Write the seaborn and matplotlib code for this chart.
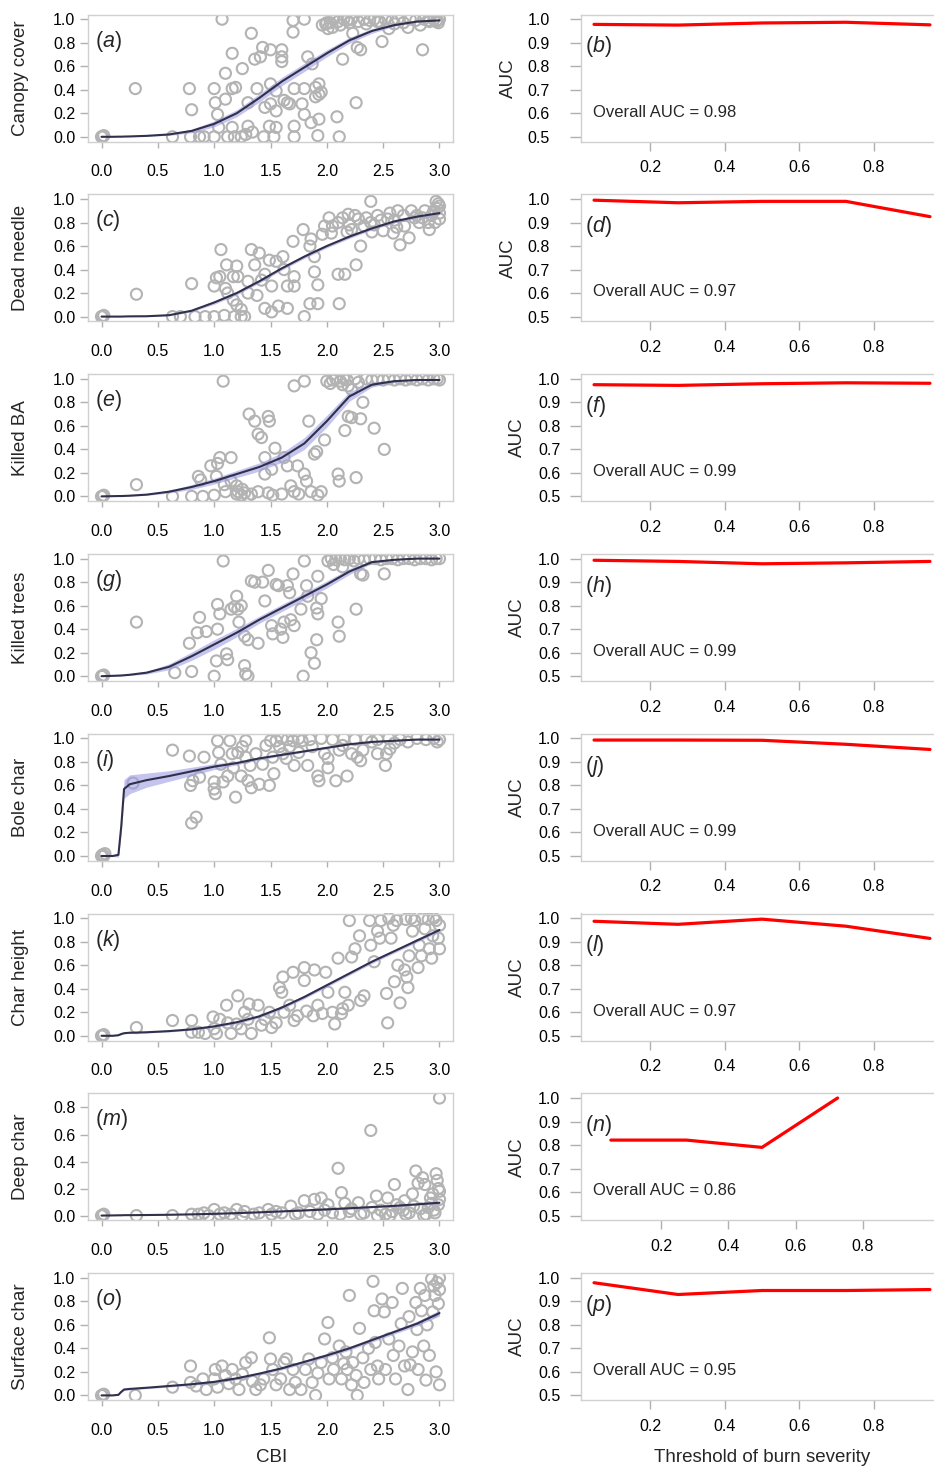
import numpy as np
import matplotlib
matplotlib.use("Agg")
import matplotlib.pyplot as plt
import seaborn as sns

# ---- data ----
cbi_grid = [0.0, 0.1, 0.15, 0.175, 0.2, 0.25, 0.4, 0.6, 0.8, 1.0,
            1.2, 1.4, 1.6, 1.8, 2.0, 2.2, 2.4, 2.6, 2.8, 3.0]

canopy_pts = [(0.00, 0.00), (0.01, 0.00), (0.02, 0.01), (0.30, 0.41), (0.63, 0.00), (0.78, 0.41), (0.79, 0.00),
              (0.80, 0.23), (0.87, 0.00), (0.91, 0.00), (1.00, 0.00), (1.00, 0.41), (1.01, 0.29), (1.03, 0.19),
              (1.04, 0.08), (1.07, 1.00), (1.10, 0.54), (1.10, 0.32), (1.12, 0.00), (1.16, 0.71), (1.16, 0.41),
              (1.19, 0.42), (1.16, 0.08), (1.18, 0.00), (1.25, 0.58), (1.24, 0.00), (1.28, 0.02), (1.30, 0.09),
              (1.33, 0.88), (1.36, 0.66), (1.30, 0.29), (1.34, 0.04), (1.41, 0.68), (1.43, 0.76), (1.38, 0.41),
              (1.45, 0.25), (1.44, 0.00), (1.50, 0.74), (1.50, 0.45), (1.50, 0.28), (1.49, 0.09), (1.55, 0.08),
              (1.53, 0.00), (1.60, 0.74), (1.60, 0.68), (1.60, 0.64), (1.55, 0.39), (1.55, 0.22), (1.62, 0.31),
              (1.65, 0.29), (1.67, 0.28), (1.70, 0.89), (1.70, 0.99), (1.71, 0.41), (1.71, 0.09), (1.71, 0.00),
              (1.80, 1.00), (1.80, 0.41), (1.78, 0.28), (1.83, 0.68), (1.80, 0.19), (1.86, 0.12), (1.87, 0.62),
              (1.90, 0.42), (1.90, 0.34), (1.93, 0.45), (1.93, 0.36), (1.95, 0.38), (1.93, 0.15), (1.92, 0.01),
              (1.96, 0.95), (1.99, 0.96), (2.01, 0.92), (2.03, 0.97), (2.05, 0.93), (2.09, 0.17), (2.11, 0.00),
              (2.14, 0.66), (2.26, 0.29), (2.27, 0.76), (2.30, 0.74), (2.23, 0.88), (2.49, 0.81), (2.55, 0.92),
              (2.85, 0.74), (2.72, 0.93), (2.83, 0.95), (2.00, 0.97), (2.06, 1.00), (2.10, 0.98), (2.15, 1.00),
              (2.18, 0.99), (2.22, 1.00), (2.28, 0.98), (2.33, 1.00), (2.38, 0.99), (2.42, 1.00), (2.47, 0.98),
              (2.52, 1.00), (2.58, 0.99), (2.63, 1.00), (2.68, 0.97), (2.74, 1.00), (2.79, 0.99), (2.86, 1.00),
              (2.91, 0.98), (2.95, 1.00), (2.98, 0.99), (3.00, 1.00), (2.99, 0.97), (2.97, 0.98), (2.12, 0.95),
              (2.20, 0.97), (2.35, 0.96), (2.45, 0.98), (2.60, 0.96), (2.90, 0.99)]
canopy_fit = [0.0, 0.0, 0.001, 0.001, 0.002, 0.003, 0.008, 0.02, 0.05, 0.11,
              0.20, 0.33, 0.47, 0.59, 0.71, 0.82, 0.90, 0.95, 0.98, 0.99]
canopy_se = [0, 0, 0, 0, 0, 0.001, 0.003, 0.008, 0.015, 0.025,
             0.03, 0.035, 0.035, 0.035, 0.03, 0.025, 0.02, 0.01, 0.005, 0.003]

needle_pts = [(0.00, 0.00), (0.01, 0.00), (0.02, 0.01), (0.31, 0.19), (0.63, 0.00), (0.70, 0.00), (0.83, 0.00),
              (0.92, 0.00), (1.00, 0.00), (1.09, 0.01), (1.18, 0.00), (1.24, 0.00), (0.80, 0.28), (1.00, 0.26),
              (1.02, 0.33), (1.05, 0.34), (1.06, 0.57), (1.11, 0.44), (1.20, 0.43), (1.17, 0.34), (1.21, 0.34),
              (1.12, 0.20), (1.17, 0.14), (1.20, 0.10), (1.27, 0.00), (1.24, 0.06), (1.30, 0.20), (1.33, 0.57),
              (1.36, 0.44), (1.40, 0.54), (1.42, 0.31), (1.45, 0.36), (1.49, 0.48), (1.51, 0.26), (1.45, 0.07),
              (1.51, 0.04), (1.57, 0.09), (1.61, 0.51), (1.62, 0.40), (1.65, 0.26), (1.70, 0.64), (1.71, 0.34),
              (1.71, 0.26), (1.65, 0.07), (1.79, 0.74), (1.80, 0.00), (1.85, 0.60), (1.86, 0.66), (1.89, 0.51),
              (1.89, 0.38), (1.92, 0.27), (1.85, 0.11), (1.92, 0.11), (1.96, 0.70), (1.98, 0.77), (2.02, 0.84),
              (2.04, 0.71), (2.10, 0.36), (2.11, 0.11), (2.16, 0.36), (2.19, 0.87), (2.22, 0.74), (2.26, 0.44),
              (2.28, 0.83), (2.30, 0.60), (2.33, 0.77), (2.39, 0.98), (2.39, 0.80), (2.45, 0.86), (2.50, 0.73),
              (2.54, 0.83), (2.59, 0.71), (2.65, 0.61), (2.63, 0.90), (2.69, 0.77), (2.73, 0.67), (2.78, 0.84),
              (2.82, 0.80), (2.87, 0.90), (2.93, 0.86), (2.97, 0.98), (2.98, 0.92), (3.00, 0.88), (2.96, 0.80),
              (3.00, 0.94), (2.10, 0.80), (2.14, 0.84), (2.20, 0.78), (2.25, 0.86), (2.35, 0.84), (2.42, 0.78),
              (2.48, 0.82), (2.56, 0.88), (2.60, 0.82), (2.68, 0.86), (2.75, 0.90), (2.80, 0.86), (2.85, 0.84),
              (2.90, 0.80), (2.95, 0.90), (2.99, 0.96), (3.00, 0.83), (2.05, 0.77), (2.18, 0.72), (2.40, 0.72),
              (2.62, 0.76), (2.91, 0.74), (1.55, 0.47), (1.30, 0.30), (1.10, 0.24), (1.38, 0.18)]
needle_fit = [0.0, 0.0, 0.0, 0.0, 0.001, 0.002, 0.003, 0.012, 0.05, 0.12,
              0.20, 0.30, 0.41, 0.51, 0.60, 0.68, 0.75, 0.81, 0.85, 0.88]
needle_se = [0, 0, 0, 0, 0, 0.001, 0.002, 0.005, 0.01, 0.015,
             0.015, 0.015, 0.015, 0.015, 0.015, 0.015, 0.012, 0.012, 0.012, 0.012]

ba_pts = [(0.00, 0.00), (0.01, 0.00), (0.02, 0.01), (0.31, 0.10), (0.63, 0.00), (0.80, 0.00), (0.90, 0.00),
          (1.00, 0.01), (1.08, 0.98), (0.86, 0.17), (0.88, 0.14), (0.97, 0.26), (1.03, 0.28), (1.05, 0.33),
          (1.15, 0.33), (1.02, 0.17), (1.09, 0.10), (1.15, 0.13), (1.20, 0.09), (1.21, 0.04), (1.24, 0.01),
          (1.27, 0.03), (1.30, 0.00), (1.31, 0.70), (1.36, 0.64), (1.39, 0.53), (1.42, 0.50), (1.48, 0.68),
          (1.49, 0.64), (1.45, 0.33), (1.45, 0.19), (1.51, 0.23), (1.54, 0.41), (1.39, 0.04), (1.48, 0.03),
          (1.52, 0.01), (1.62, 0.33), (1.65, 0.26), (1.68, 0.09), (1.71, 0.04), (1.71, 0.94), (1.80, 0.98),
          (1.74, 0.26), (1.80, 0.19), (1.82, 0.13), (1.84, 0.64), (1.89, 0.36), (1.91, 0.38), (1.86, 0.04),
          (1.92, 0.01), (1.95, 0.04), (1.98, 0.48), (2.00, 0.98), (2.10, 0.19), (2.11, 0.13), (2.19, 0.68),
          (2.22, 0.67), (2.16, 0.56), (2.26, 0.16), (2.30, 0.66), (2.32, 0.80), (2.42, 0.58), (2.51, 0.40),
          (2.19, 0.94), (2.22, 0.91), (1.20, 0.02), (1.25, 0.06), (1.33, 0.02), (1.10, 0.04), (1.60, 0.02),
          (1.75, 0.02), (2.05, 0.99), (2.08, 1.00), (2.12, 0.98), (2.15, 1.00), (2.18, 0.99), (2.25, 1.00),
          (2.28, 0.97), (2.35, 1.00), (2.40, 0.99), (2.45, 1.00), (2.50, 0.99), (2.55, 1.00), (2.60, 0.99),
          (2.65, 1.00), (2.70, 0.99), (2.75, 1.00), (2.80, 0.99), (2.85, 1.00), (2.90, 0.99), (2.95, 1.00),
          (3.00, 0.99), (2.98, 1.00), (2.03, 0.96), (2.14, 0.95)]
ba_fit = [0.0, 0.002, 0.003, 0.003, 0.004, 0.006, 0.015, 0.04, 0.08, 0.13,
          0.19, 0.25, 0.33, 0.45, 0.64, 0.85, 0.95, 0.98, 0.99, 0.99]
ba_se = [0, 0.001, 0.002, 0.002, 0.002, 0.003, 0.006, 0.012, 0.02, 0.025,
         0.03, 0.035, 0.04, 0.05, 0.05, 0.04, 0.02, 0.01, 0.005, 0.003]

trees_pts = [(0.00, 0.00), (0.01, 0.00), (0.02, 0.01), (0.31, 0.46), (0.65, 0.03), (0.80, 0.04), (0.78, 0.28),
             (0.85, 0.37), (0.87, 0.50), (0.93, 0.38), (1.00, 0.00), (1.02, 0.13), (1.03, 0.40), (1.03, 0.61),
             (1.05, 0.53), (1.08, 0.98), (1.11, 0.19), (1.12, 0.14), (1.15, 0.57), (1.18, 0.59), (1.20, 0.68),
             (1.21, 0.57), (1.24, 0.60), (1.22, 0.46), (1.27, 0.34), (1.30, 0.31), (1.27, 0.09), (1.30, 0.00),
             (1.28, 0.02), (1.33, 0.81), (1.36, 0.80), (1.39, 0.28), (1.43, 0.80), (1.45, 0.64), (1.48, 0.90),
             (1.51, 0.43), (1.52, 0.36), (1.55, 0.78), (1.57, 0.77), (1.59, 0.40), (1.61, 0.33), (1.62, 0.46),
             (1.65, 0.77), (1.67, 0.71), (1.68, 0.48), (1.70, 0.87), (1.71, 0.43), (1.77, 0.57), (1.79, 0.00),
             (1.80, 0.98), (1.82, 0.77), (1.83, 0.68), (1.86, 0.20), (1.89, 0.11), (1.91, 0.58), (1.92, 0.53),
             (1.91, 0.31), (1.92, 0.85), (1.95, 0.66), (2.01, 0.98), (2.10, 0.46), (2.11, 0.34), (2.26, 0.57),
             (2.30, 0.87), (2.32, 0.86), (2.51, 0.87), (2.04, 1.00), (2.08, 0.99), (2.12, 1.00), (2.16, 0.99),
             (2.20, 1.00), (2.24, 0.98), (2.28, 1.00), (2.33, 0.99), (2.38, 1.00), (2.43, 1.00), (2.48, 0.99),
             (2.53, 1.00), (2.58, 1.00), (2.63, 0.99), (2.68, 1.00), (2.73, 1.00), (2.78, 0.99), (2.83, 1.00),
             (2.88, 1.00), (2.93, 0.99), (2.97, 1.00), (3.00, 1.00), (2.06, 0.95), (2.14, 0.93)]
trees_fit = [0.0, 0.003, 0.005, 0.006, 0.008, 0.012, 0.03, 0.08, 0.17, 0.27,
             0.37, 0.48, 0.58, 0.68, 0.78, 0.89, 0.97, 0.99, 1.0, 1.0]
trees_se = [0, 0.002, 0.003, 0.003, 0.004, 0.006, 0.012, 0.025, 0.035, 0.04,
            0.035, 0.03, 0.03, 0.03, 0.03, 0.025, 0.01, 0.005, 0.002, 0.001]

bole_pts = [(0.00, 0.00), (0.01, 0.01), (0.02, 0.00), (0.03, 0.02), (0.28, 0.62), (0.63, 0.90), (0.78, 0.85),
            (0.79, 0.60), (0.81, 0.64), (0.80, 0.28), (0.84, 0.33), (0.87, 0.67), (0.91, 0.84), (1.00, 0.57),
            (1.00, 0.63), (1.01, 0.53), (1.03, 0.98), (1.04, 0.88), (1.06, 0.78), (1.08, 0.63), (1.12, 0.68),
            (1.14, 0.98), (1.16, 0.87), (1.17, 0.75), (1.19, 0.50), (1.21, 0.88), (1.24, 0.68), (1.25, 0.93),
            (1.28, 0.98), (1.28, 0.84), (1.30, 0.64), (1.33, 0.58), (1.32, 0.77), (1.37, 0.87), (1.40, 0.61),
            (1.43, 0.78), (1.46, 0.94), (1.49, 0.60), (1.50, 0.98), (1.52, 0.84), (1.53, 0.70), (1.55, 0.98),
            (1.58, 0.93), (1.61, 0.87), (1.64, 0.83), (1.67, 0.93), (1.70, 0.98), (1.71, 0.77), (1.75, 0.88),
            (1.78, 0.98), (1.83, 0.77), (1.87, 0.93), (1.92, 0.68), (1.93, 0.64), (1.98, 0.87), (2.01, 0.83),
            (2.01, 0.75), (2.08, 0.64), (2.11, 0.90), (2.14, 0.94), (2.18, 0.68), (2.22, 0.87), (2.27, 0.84),
            (2.30, 0.81), (2.32, 0.90), (2.45, 0.87), (2.52, 0.77), (2.53, 0.87), (2.56, 0.91), (1.60, 1.00),
            (1.65, 0.99), (1.75, 1.00), (1.85, 0.99), (1.95, 1.00), (2.05, 0.99), (2.15, 1.00), (2.25, 0.99),
            (2.35, 1.00), (2.45, 0.99), (2.55, 1.00), (2.65, 0.99), (2.72, 0.97), (2.80, 1.00), (2.88, 0.99),
            (2.95, 1.00), (3.00, 0.99), (2.98, 0.97), (2.60, 0.96), (2.40, 0.97)]
bole_fit = [0.0, 0.0, 0.01, 0.25, 0.57, 0.61, 0.645, 0.68, 0.72, 0.76,
            0.79, 0.83, 0.86, 0.89, 0.92, 0.95, 0.97, 0.98, 0.99, 0.99]
bole_se = [0, 0.005, 0.02, 0.05, 0.08, 0.08, 0.06, 0.045, 0.035, 0.025,
           0.015, 0.012, 0.01, 0.008, 0.007, 0.006, 0.005, 0.004, 0.003, 0.003]

height_pts = [(0.00, 0.00), (0.01, 0.00), (0.02, 0.01), (0.31, 0.07), (0.63, 0.13), (0.80, 0.13), (0.80, 0.03),
              (0.86, 0.03), (0.92, 0.02), (0.99, 0.16), (1.00, 0.06), (1.02, 0.02), (1.05, 0.14), (1.11, 0.26),
              (1.12, 0.11), (1.15, 0.02), (1.20, 0.10), (1.21, 0.34), (1.24, 0.06), (1.27, 0.20), (1.30, 0.14),
              (1.31, 0.27), (1.33, 0.02), (1.39, 0.26), (1.42, 0.09), (1.45, 0.14), (1.49, 0.20), (1.51, 0.07),
              (1.55, 0.11), (1.58, 0.41), (1.60, 0.37), (1.61, 0.50), (1.62, 0.20), (1.67, 0.26), (1.70, 0.54),
              (1.71, 0.13), (1.74, 0.17), (1.80, 0.58), (1.80, 0.47), (1.82, 0.21), (1.88, 0.17), (1.89, 0.56),
              (1.92, 0.26), (1.96, 0.19), (1.99, 0.54), (2.01, 0.37), (2.05, 0.20), (2.07, 0.10), (2.10, 0.66),
              (2.13, 0.19), (2.14, 0.23), (2.16, 0.37), (2.19, 0.26), (2.20, 0.98), (2.22, 0.67), (2.25, 0.74),
              (2.29, 0.85), (2.30, 0.30), (2.33, 0.34), (2.38, 0.98), (2.39, 0.77), (2.42, 0.63), (2.45, 0.89),
              (2.47, 0.83), (2.48, 0.98), (2.53, 0.36), (2.54, 0.11), (2.57, 0.83), (2.59, 0.94), (2.62, 0.98),
              (2.60, 0.46), (2.63, 0.60), (2.65, 0.28), (2.69, 0.56), (2.71, 0.50), (2.72, 0.41), (2.73, 0.68),
              (2.76, 0.89), (2.78, 0.98), (2.81, 0.58), (2.82, 0.77), (2.84, 0.68), (2.87, 0.91), (2.91, 0.74),
              (2.93, 0.66), (2.94, 0.85), (2.97, 0.98), (2.99, 0.83), (3.00, 0.74), (3.00, 0.94), (2.85, 1.00),
              (2.90, 0.99), (2.95, 1.00), (2.70, 0.99), (2.75, 1.00), (2.55, 1.00)]
height_fit = [0.0, 0.0, 0.005, 0.015, 0.022, 0.026, 0.03, 0.04, 0.055, 0.08,
              0.115, 0.165, 0.24, 0.33, 0.43, 0.53, 0.63, 0.72, 0.81, 0.90]
height_se = [0, 0.002, 0.004, 0.005, 0.005, 0.005, 0.006, 0.007, 0.008, 0.01,
             0.012, 0.013, 0.014, 0.015, 0.015, 0.015, 0.015, 0.015, 0.015, 0.015]

deep_pts = [(0.00, 0.00), (0.01, 0.00), (0.02, 0.01), (0.31, 0.00), (0.63, 0.00), (0.80, 0.01), (0.86, 0.01),
            (0.91, 0.02), (1.00, 0.045), (1.09, 0.02), (1.15, 0.01), (1.20, 0.045), (1.27, 0.03), (1.35, 0.01),
            (1.48, 0.045), (1.51, 0.01), (1.60, 0.02), (1.68, 0.07), (1.75, 0.02), (1.80, 0.11), (1.85, 0.03),
            (1.89, 0.12), (1.95, 0.13), (2.01, 0.08), (2.05, 0.02), (2.10, 0.35), (2.13, 0.17), (2.16, 0.09),
            (2.20, 0.03), (2.28, 0.095), (2.33, 0.02), (2.39, 0.63), (2.44, 0.145), (2.48, 0.04), (2.54, 0.13),
            (2.58, 0.03), (2.60, 0.23), (2.65, 0.06), (2.69, 0.11), (2.73, 0.02), (2.76, 0.16), (2.79, 0.33),
            (2.81, 0.24), (2.85, 0.28), (2.87, 0.23), (2.90, 0.06), (2.92, 0.13), (2.95, 0.04), (2.97, 0.31),
            (2.98, 0.26), (3.00, 0.87), (3.00, 0.18), (3.00, 0.12), (2.99, 0.08), (2.96, 0.02), (2.93, 0.09),
            (2.88, 0.01), (2.83, 0.05), (2.77, 0.07), (2.70, 0.01), (2.62, 0.08), (2.52, 0.01), (2.40, 0.06),
            (2.30, 0.01), (2.22, 0.05), (2.12, 0.01), (1.98, 0.04), (1.92, 0.01), (1.72, 0.01), (1.55, 0.03),
            (1.40, 0.02), (1.25, 0.00), (1.05, 0.01), (0.95, 0.00), (2.56, 0.00), (2.86, 0.00), (2.45, 0.00),
            (2.68, 0.04), (2.94, 0.16), (2.99, 0.20)]
deep_fit = [0.0, 0.001, 0.002, 0.002, 0.003, 0.003, 0.004, 0.006, 0.009, 0.013,
            0.018, 0.024, 0.031, 0.038, 0.046, 0.054, 0.063, 0.072, 0.083, 0.095]
deep_se = [0, 0, 0, 0, 0, 0.001, 0.001, 0.002, 0.002, 0.003,
           0.003, 0.003, 0.004, 0.004, 0.004, 0.005, 0.005, 0.006, 0.006, 0.008]

surface_pts = [(0.00, 0.00), (0.01, 0.00), (0.02, 0.01), (0.30, 0.00), (0.63, 0.07), (0.79, 0.25), (0.79, 0.11),
               (0.84, 0.08), (0.90, 0.14), (0.93, 0.05), (1.00, 0.14), (1.01, 0.22), (1.03, 0.07), (1.07, 0.25),
               (1.10, 0.17), (1.13, 0.10), (1.16, 0.22), (1.19, 0.14), (1.22, 0.05), (1.28, 0.28), (1.33, 0.32),
               (1.34, 0.12), (1.37, 0.05), (1.41, 0.09), (1.44, 0.14), (1.49, 0.49), (1.50, 0.31), (1.52, 0.22),
               (1.55, 0.09), (1.59, 0.14), (1.62, 0.28), (1.64, 0.31), (1.67, 0.05), (1.70, 0.22), (1.72, 0.11),
               (1.77, 0.05), (1.81, 0.22), (1.84, 0.31), (1.87, 0.11), (1.90, 0.00), (1.92, 0.19), (1.95, 0.28),
               (1.98, 0.48), (2.01, 0.62), (2.02, 0.14), (2.05, 0.32), (2.06, 0.22), (2.11, 0.42), (2.13, 0.14),
               (2.17, 0.37), (2.18, 0.22), (2.20, 0.85), (2.22, 0.09), (2.23, 0.28), (2.26, 0.17), (2.27, 0.00),
               (2.29, 0.57), (2.32, 0.32), (2.33, 0.11), (2.37, 0.40), (2.39, 0.22), (2.41, 0.97), (2.42, 0.72),
               (2.43, 0.45), (2.46, 0.14), (2.49, 0.82), (2.51, 0.71), (2.52, 0.22), (2.55, 0.48), (2.58, 0.79),
               (2.59, 0.34), (2.61, 0.14), (2.64, 0.42), (2.66, 0.61), (2.67, 0.91), (2.69, 0.25), (2.72, 0.05),
               (2.73, 0.67), (2.76, 0.37), (2.79, 0.79), (2.80, 0.56), (2.81, 0.22), (2.83, 0.91), (2.84, 0.72),
               (2.86, 0.42), (2.87, 0.85), (2.88, 0.13), (2.89, 0.60), (2.91, 0.34), (2.93, 0.99), (2.94, 0.71),
               (2.95, 0.93), (2.96, 0.85), (2.97, 0.20), (2.98, 0.96), (3.00, 0.09), (3.00, 1.00), (3.00, 0.90),
               (2.99, 0.78), (2.15, 0.27), (2.45, 0.25), (2.74, 0.26), (1.25, 0.18)]
surface_fit = [0.0, 0.0, 0.005, 0.03, 0.05, 0.055, 0.065, 0.08, 0.095, 0.115,
               0.145, 0.185, 0.23, 0.285, 0.34, 0.40, 0.47, 0.54, 0.61, 0.70]
surface_se = [0, 0.002, 0.004, 0.006, 0.008, 0.008, 0.008, 0.009, 0.01, 0.01,
              0.011, 0.012, 0.013, 0.014, 0.015, 0.016, 0.017, 0.018, 0.02, 0.025]

thresholds = [0.05, 0.275, 0.5, 0.725, 0.95]
auc_b = [0.978, 0.975, 0.984, 0.987, 0.976]
auc_d = [0.995, 0.984, 0.990, 0.990, 0.925]
auc_f = [0.975, 0.972, 0.979, 0.983, 0.981]
auc_h = [0.993, 0.988, 0.978, 0.982, 0.988]
auc_j = [0.993, 0.993, 0.992, 0.975, 0.953]
auc_l = [0.987, 0.974, 0.996, 0.966, 0.914]
auc_n = [0.821, 0.821, 0.790, 1.000]
auc_p = [0.979, 0.929, 0.946, 0.946, 0.950]
overall_auc = [0.98, 0.97, 0.99, 0.99, 0.99, 0.97, 0.86, 0.95]

variables = ["Canopy cover", "Dead needle", "Killed BA", "Killed trees",
             "Bole char", "Char height", "Deep char", "Surface char"]
left_tags = ["a", "c", "e", "g", "i", "k", "m", "o"]
right_tags = ["b", "d", "f", "h", "j", "l", "n", "p"]

left_data = [(canopy_pts, canopy_fit, canopy_se), (needle_pts, needle_fit, needle_se),
             (ba_pts, ba_fit, ba_se), (trees_pts, trees_fit, trees_se),
             (bole_pts, bole_fit, bole_se), (height_pts, height_fit, height_se),
             (deep_pts, deep_fit, deep_se), (surface_pts, surface_fit, surface_se)]
right_data = [auc_b, auc_d, auc_f, auc_h, auc_j, auc_l, auc_n, auc_p]

# ---- style ----
sns.set_style("white")
plt.rcParams['font.family'] = ['Liberation Sans', 'DejaVu Sans']
plt.rcParams['mathtext.fontset'] = 'custom'
plt.rcParams['mathtext.it'] = 'Liberation Sans:italic'
plt.rcParams['mathtext.rm'] = 'Liberation Sans'

W, H = 934, 1470
fig = plt.figure(figsize=(W / 100, H / 100), dpi=100)


def add_ax(x0, x1, row):
    top = 14.5 + 179.8 * row
    return fig.add_axes([x0 / W, 1 - (top + 127) / H, (x1 - x0) / W, 127 / H])


def frame(ax):
    for s in ax.spines.values():
        s.set_visible(True)
        s.set_color('#d0d0d0')
        s.set_linewidth(1.0)
    ax.tick_params(bottom=True, left=True, colors='#b0b0b0', labelcolor='black',
                   labelsize=11.5, direction='out', width=1)
    ax.grid(False)


for row in range(8):
    pts, fit, se = left_data[row]
    px = [p[0] for p in pts]
    py = [p[1] for p in pts]
    lo = [f - s for f, s in zip(fit, se)]
    hi = [f + s for f, s in zip(fit, se)]

    # left column: severity indicator vs CBI
    ax = add_ax(88, 453, row)
    sns.scatterplot(x=px, y=py, ax=ax, marker='o', s=64, color='#b3b3b3',
                    facecolor='none', edgecolor='#b3b3b3', linewidth=1.5,
                    legend=False, zorder=2)
    ax.fill_between(cbi_grid, lo, hi, color='#9d9de3', alpha=0.6, linewidth=0, zorder=3)
    sns.lineplot(x=cbi_grid, y=fit, ax=ax, color='#30304a', linewidth=1.5,
                 estimator=None, sort=False, zorder=4)
    frame(ax)
    ax.set_xlim(-0.12, 3.12)
    ax.set_xticks([0, 0.5, 1.0, 1.5, 2.0, 2.5, 3.0])
    ax.set_xticklabels(['0.0', '0.5', '1.0', '1.5', '2.0', '2.5', '3.0'])
    if row == 6:
        ax.set_ylim(-0.035, 0.905)
        yt = [0, 0.2, 0.4, 0.6, 0.8]
    else:
        ax.set_ylim(-0.04, 1.04)
        yt = [0, 0.2, 0.4, 0.6, 0.8, 1.0]
    ax.set_yticks(yt)
    ax.set_yticklabels([f'{v:.1f}' for v in yt])
    ax.tick_params(axis='x', length=4.5, pad=12)
    ax.tick_params(axis='y', length=6, pad=3)
    ax.set_ylabel(variables[row], fontsize=13.5)
    ax.yaxis.set_label_coords(-0.163, 0.5)
    ax.text(0.02, 0.79, f'(${left_tags[row]}$)', transform=ax.transAxes,
            fontsize=15.5, ha='left', va='center')

    # right column: AUC vs burn-severity threshold
    ax = add_ax(580.6, 943.4, row)
    auc = right_data[row]
    sns.lineplot(x=thresholds[:len(auc)], y=auc, ax=ax, color='#ff0000',
                 linewidth=2.3, estimator=None, sort=False)
    frame(ax)
    if row == 6:
        ax.set_xlim(-0.04, 1.04)
    else:
        ax.set_xlim(0.014, 0.986)
    ax.set_ylim(0.48, 1.02)
    ax.set_xticks([0.2, 0.4, 0.6, 0.8])
    ax.set_xticklabels(['0.2', '0.4', '0.6', '0.8'])
    ax.set_yticks([0.5, 0.6, 0.7, 0.8, 0.9, 1.0])
    ax.set_yticklabels(['0.5', '0.6', '0.7', '0.8', '0.9', '1.0'])
    ax.tick_params(axis='x', length=6.5, pad=7)
    ax.tick_params(axis='y', length=8, pad=14 if row < 2 else 6.5)
    ax.set_ylabel('AUC', fontsize=13.5)
    ax.yaxis.set_label_coords(-0.176 if row < 2 else -0.15, 0.5)
    ax.text(0.012, 0.745, f'(${right_tags[row]}$)', transform=ax.transAxes,
            fontsize=15.5, ha='left', va='center')
    ax.text(0.034, 0.232, f'Overall AUC = {overall_auc[row]:.2f}',
            transform=ax.transAxes, fontsize=12, ha='left', va='center')

fig.text(272 / W, 1 - 1457 / H, 'CBI', fontsize=13.5, ha='center', va='center')
fig.text(762 / W, 1 - 1457 / H, 'Threshold of burn severity', fontsize=13.5,
         ha='center', va='center')

fig.savefig('out.png', dpi=100)
